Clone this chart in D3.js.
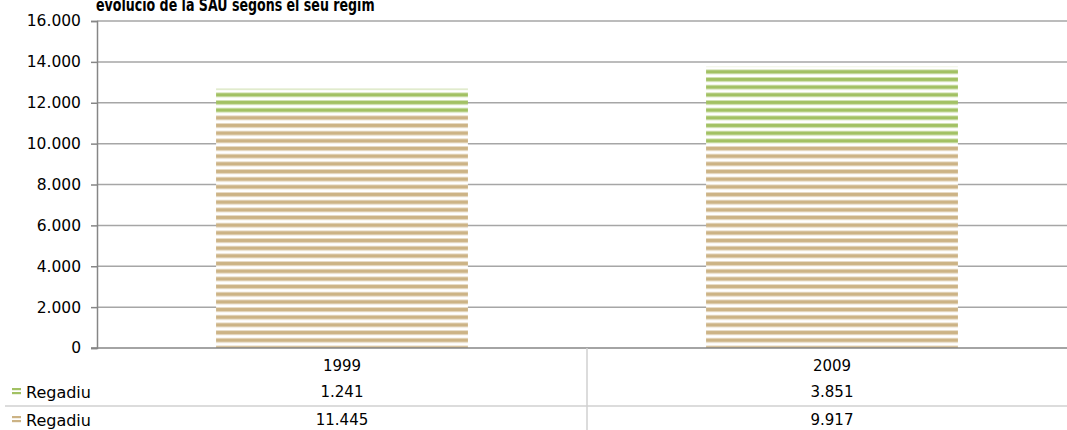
<!DOCTYPE html>
<meta charset="utf-8">
<head>
    <script src="https://d3js.org/d3.v7.min.js"></script>
    <style>
    body { margin: 0; background: white; }
    svg { display: block; font-family: "DejaVu Sans", sans-serif; }
    </style>
</head>
<body>
    <svg id="svgid" width="1067" height="430"></svg>
    <script>
        // chart data
        var years = ["1999", "2009"];
        var seriesNames = ["Regadiu", "Regadiu"];      // bottom (tan), top (green)
        var bottomValues = [11445, 9917];
        var topValues = [1241, 3851];
        var yTicks = [0, 2000, 4000, 6000, 8000, 10000, 12000, 14000, 16000];
        var title = "evolució de la SAU segons el seu règim";

        var svg = d3.select("#svgid");
        var plotLeft = 97, plotRight = 1077, plotTop = 21, plotBottom = 348;

        var fmt = function(v) { return d3.format(",")(v).replace(/,/g, "."); };

        var x = d3.scaleBand().domain(years).range([plotLeft, plotRight])
            .paddingInner(0.486).paddingOuter(0.243);
        var xCat = d3.scaleBand().domain(years).range([plotLeft, plotRight]);
        var y = d3.scaleLinear().domain([0, 16000]).range([plotBottom, plotTop]);

        // striped fills
        var defs = svg.append("defs");
        function stripes(id, dark, light) {
            var p = defs.append("pattern").attr("id", id)
                .attr("patternUnits", "userSpaceOnUse")
                .attr("x", 0).attr("y", 0.3).attr("width", 10).attr("height", 7.67);
            p.append("rect").attr("width", 10).attr("height", 7.67).attr("fill", "#fff");
            p.append("rect").attr("y", 0).attr("width", 10).attr("height", 5).attr("fill", light);
            p.append("rect").attr("y", 1).attr("width", 10).attr("height", 3).attr("fill", dark);
        }
        stripes("tan", "#ccb385", "#e6d9c2");
        stripes("green", "#a2c163", "#d3e2b4");

        // gridlines
        svg.append("g").selectAll("line").data(yTicks.filter(function(d) { return d > 0; }))
            .join("line")
            .attr("x1", plotLeft).attr("x2", plotRight)
            .attr("y1", function(d) { return y(d); }).attr("y2", function(d) { return y(d); })
            .attr("stroke", "#a6a6a6").attr("stroke-width", 1.5);

        // bars
        var stack = years.map(function(yr, i) {
            return { year: yr, b: bottomValues[i], t: topValues[i] };
        });
        svg.append("g").selectAll("rect.b").data(stack).join("rect")
            .attr("x", function(d) { return x(d.year); })
            .attr("width", x.bandwidth())
            .attr("y", function(d) { return y(d.b); })
            .attr("height", function(d) { return y(0) - y(d.b); })
            .attr("fill", "url(#tan)");
        svg.append("g").selectAll("rect.t").data(stack).join("rect")
            .attr("x", function(d) { return x(d.year); })
            .attr("width", x.bandwidth())
            .attr("y", function(d) { return y(d.b + d.t); })
            .attr("height", function(d) { return y(d.b) - y(d.b + d.t); })
            .attr("fill", "url(#green)");

        // y axis
        var yAxis = d3.axisLeft(y).tickValues(yTicks).tickFormat(fmt).tickSize(6).tickPadding(10);
        var ga = svg.append("g").attr("transform", "translate(" + plotLeft + ",0)").call(yAxis);
        ga.select(".domain").attr("stroke", "#868686").attr("stroke-width", 1.5);
        ga.selectAll(".tick line").attr("stroke", "#868686").attr("stroke-width", 1.5);
        ga.selectAll(".tick text").attr("font-size", 15.5).attr("font-family", "DejaVu Sans")
            .attr("fill", "#000");

        // x axis line
        svg.append("line").attr("x1", plotLeft - 6).attr("x2", plotRight)
            .attr("y1", plotBottom).attr("y2", plotBottom)
            .attr("stroke", "#868686").attr("stroke-width", 1.5);

        // data table
        var rowY = [366, 392, 420];
        svg.append("line").attr("x1", 5).attr("x2", plotRight).attr("y1", 406).attr("y2", 406)
            .attr("stroke", "#d0d0d0").attr("stroke-width", 1.5);
        svg.append("line").attr("x1", xCat("2009")).attr("x2", xCat("2009"))
            .attr("y1", plotBottom).attr("y2", 430)
            .attr("stroke", "#d0d0d0").attr("stroke-width", 1.5);

        svg.append("g").selectAll("text").data(years).join("text")
            .attr("x", function(d) { return xCat(d) + xCat.bandwidth() / 2; })
            .attr("y", rowY[0]).attr("dy", "0.35em")
            .attr("text-anchor", "middle").attr("font-size", 15)
            .text(function(d) { return d; });

        var rows = [
            { name: seriesNames[1], values: topValues, dark: "#a2c163" },
            { name: seriesNames[0], values: bottomValues, dark: "#ccb385" }
        ];
        rows.forEach(function(r, i) {
            var ry = rowY[i + 1];
            var key = svg.append("g");
            key.append("rect").attr("x", 12).attr("y", ry - 4).attr("width", 9).attr("height", 2.2).attr("fill", r.dark);
            key.append("rect").attr("x", 12).attr("y", ry).attr("width", 9).attr("height", 2.2).attr("fill", r.dark);
            svg.append("text").attr("x", 26).attr("y", ry).attr("dy", "0.35em")
                .attr("font-size", 16).text(r.name);
            svg.append("g").selectAll("text").data(years).join("text")
                .attr("x", function(d) { return xCat(d) + xCat.bandwidth() / 2; })
                .attr("y", ry).attr("dy", "0.35em")
                .attr("text-anchor", "middle").attr("font-size", 15)
                .text(function(d, j) { return fmt(r.values[j]); });
        });

        // title (narrow bold face, clipped at the top like the original)
        svg.append("text")
            .attr("transform", "translate(96,11) scale(0.78,1)")
            .attr("font-size", 18).attr("font-weight", "bold")
            .attr("font-family", "DejaVu Sans Condensed, DejaVu Sans")
            .text(title);
    </script>
</body>
